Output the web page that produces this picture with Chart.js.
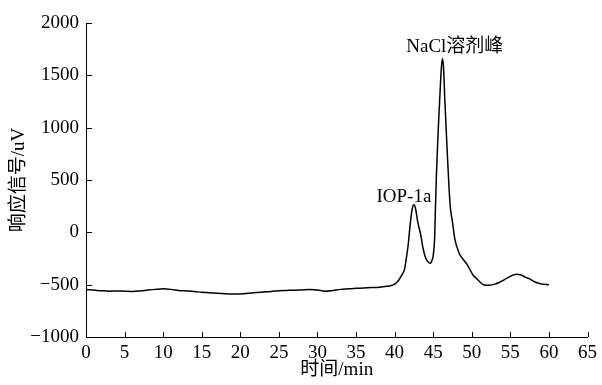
<!DOCTYPE html>
<html>
<head>
<meta charset="utf-8">
<script src="https://cdn.jsdelivr.net/npm/chart.js@4"></script>
<style>
  html, body { margin: 0; padding: 0; background: #fff; }
  #wrap { width: 602px; height: 385px; }
</style>
</head>
<body>
<div id="wrap"><canvas id="chromChart"></canvas></div>
<script>
// retention time (min) and detector response (uV)
let times = [0, 1, 2, 3, 4, 5, 6, 7, 8, 9, 10, 11, 12, 13, 14, 15, 16, 17, 18, 19, 20,
    21, 22, 23, 24, 25, 26, 27, 28, 29, 30, 31, 32, 33, 34, 35, 36, 37, 38, 38.5, 39, 39.5,
    40, 40.5, 41, 41.3, 41.5, 41.75, 42.05, 42.3, 42.5, 42.7, 43, 43.4, 43.7, 44, 44.3, 44.64,
    44.8, 45.0, 45.2, 45.3, 45.43, 45.64, 45.85, 46.05, 46.2, 46.35, 46.5, 46.8, 47.06, 47.24,
    47.5, 47.8, 48.4, 48.9, 49.5, 50.2, 50.6, 51, 51.5, 52.3, 53, 53.6, 54.5, 55.3, 55.8, 56.3,
    57, 57.5, 58.2, 59, 60];
let signal = [-547, -552, -558, -562, -560, -563, -565, -560, -552, -545, -540, -545, -555,
    -560, -565, -572, -578, -583, -587, -589, -588, -582, -575, -570, -565, -557, -555, -553,
    -550, -547, -550, -562, -555, -545, -540, -535, -532, -528, -525, -520, -516, -510,
    -495, -460, -400, -349, -254, -126, 98, 230, 263, 230, 100, -30, -158, -240, -280, -295,
    -275, -222, -30, 256, 575, 958, 1278, 1560, 1660, 1560, 1278, 799, 416, 225,
    98, -62, -205, -260, -320, -413, -440, -470, -500, -505, -495, -477, -440, -410, -400, -405,
    -430, -445, -475, -493, -500];

let xTicks = [0, 65, 5];       // min, max, step
let yTicks = [-1000, 2000, 500];

let peakLabels = ["IOP-1a", "NaCl溶剂峰"];

let points = times.map((t, i) => ({ x: t, y: signal[i] }));

const serif = "'Liberation Serif', 'Noto Sans CJK SC', serif";

// short tick marks pointing into the plot, plus peak labels
const extras = {
    id: "extras",
    afterDraw(chart) {
        let c = chart.ctx;
        let xs = chart.scales.x, ys = chart.scales.y;
        let area = chart.chartArea;
        c.save();
        c.strokeStyle = "#000";
        c.lineWidth = 1;
        c.beginPath();
        xs.ticks.forEach(tk => {
            let px = Math.round(xs.getPixelForValue(tk.value)) + 0.5;
            c.moveTo(px, area.bottom);
            c.lineTo(px, area.bottom - 5);
        });
        ys.ticks.forEach(tk => {
            let py = Math.round(ys.getPixelForValue(tk.value)) + 0.5;
            c.moveTo(area.left, py);
            c.lineTo(area.left + 6, py);
        });
        c.stroke();

        c.fillStyle = "#000";
        c.font = "19px " + serif;
        c.textAlign = "center";
        c.textBaseline = "alphabetic";
        c.fillText(peakLabels[0], xs.getPixelForValue(41.2), ys.getPixelForValue(292));
        c.fillText(peakLabels[1], xs.getPixelForValue(47.8), ys.getPixelForValue(1727));
        c.restore();
    }
};

let ctx = document.getElementById("chromChart").getContext("2d");
let chromChart = new Chart(ctx, {
    type: "line",
    data: {
        datasets: [{
            label: "response",
            data: points,
            borderColor: "#000",
            borderWidth: 1.5,
            pointRadius: 0,
            fill: false,
            cubicInterpolationMode: "monotone"
        }]
    },
    options: {
        responsive: true,
        maintainAspectRatio: false,
        animation: false,
        layout: { padding: { left: 8, right: 14, top: 23, bottom: 4 } },
        plugins: {
            legend: { display: false },
            tooltip: { enabled: false }
        },
        scales: {
            x: {
                type: "linear",
                min: xTicks[0],
                max: xTicks[1],
                border: { color: "#000", width: 1 },
                grid: { drawOnChartArea: false, drawTicks: false },
                ticks: {
                    stepSize: xTicks[2],
                    color: "#000",
                    padding: 5,
                    maxRotation: 0,
                    font: { family: serif, size: 19 }
                },
                title: {
                    display: true,
                    text: "时间/min",
                    color: "#000",
                    padding: { top: 0, bottom: 0 },
                    font: { family: serif, size: 19 }
                },
                afterFit(scale) { scale.height = 44; }
            },
            y: {
                min: yTicks[0],
                max: yTicks[1],
                border: { color: "#000", width: 1 },
                grid: { drawOnChartArea: false, drawTicks: false },
                ticks: {
                    stepSize: yTicks[2],
                    color: "#000",
                    padding: 7,
                    font: { family: serif, size: 19 },
                    callback: v => String(v).replace("-", "\u2212")
                },
                title: {
                    display: true,
                    text: "响应信号/uV",
                    color: "#000",
                    padding: { top: 0, bottom: 0 },
                    font: { family: serif, size: 19 }
                },
                afterFit(scale) { scale.width = 78; }
            }
        }
    },
    plugins: [extras]
});
</script>
</body>
</html>
